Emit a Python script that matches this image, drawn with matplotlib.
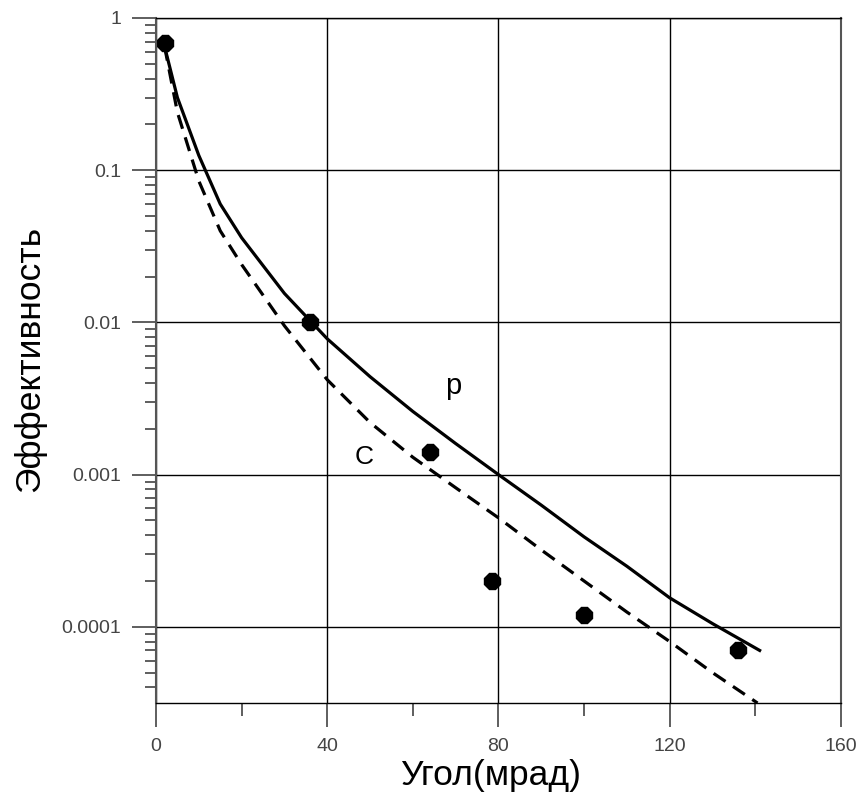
import matplotlib
matplotlib.use('Agg')
from matplotlib import pyplot as plt
from matplotlib.ticker import LogLocator, FixedLocator, NullFormatter

plt.rcParams['font.family'] = ['Liberation Sans', 'DejaVu Sans']

# calculated efficiency curves (angle in mrad)
p_angle = [2, 5, 10, 15, 20, 30, 40, 50, 60, 70, 80, 90, 100, 110, 120, 130, 141]
p_eff = [0.65, 0.30, 0.125, 0.06, 0.036, 0.0155, 0.0078, 0.0044, 0.0026, 0.0016,
         0.001, 0.00063, 0.00039, 0.00025, 0.000155, 0.000105, 0.00007]

c_angle = [2, 5, 10, 15, 20, 30, 40, 50, 60, 70, 80, 90, 100, 110, 120, 130, 140.5]
c_eff = [0.65, 0.24, 0.085, 0.040, 0.024, 0.0095, 0.0042, 0.0022, 0.0013, 0.00082,
         0.00052, 0.00032, 0.0002, 0.000125, 0.00008, 0.00005, 0.0000316]

# measured points
meas_angle = [2, 36, 64, 78.5, 100, 136]
meas_eff = [0.69, 0.01, 0.0014, 0.0002, 0.00012, 0.00007]

x_ticks = [0, 40, 80, 120, 160]
y_ticks = [1, 0.1, 0.01, 0.001, 0.0001]
y_tick_labels = ['1', '0.1', '0.01', '0.001', '0.0001']

fig = plt.figure(figsize=(8.6, 7.99), dpi=100)
ax = fig.add_axes([0.1814, 0.1202, 0.7965, 0.8573])

ax.plot(p_angle, p_eff, color='black', lw=2.3)
ax.plot(c_angle, c_eff, color='black', lw=2.3, dashes=(4.5, 2.8))
ax.plot(meas_angle, meas_eff, linestyle='none', marker='8', markersize=13,
        color='black')

ax.text(69.5, 0.0038, 'p', fontsize=21, ha='center', va='center')
ax.text(48.5, 0.0013, 'C', fontsize=19, ha='center', va='center')

ax.set_yscale('log')
ax.set_xlim(0, 160)
ax.set_ylim(10 ** -4.5, 1)

ax.xaxis.set_major_locator(FixedLocator(x_ticks))
ax.xaxis.set_minor_locator(FixedLocator([20, 60, 100, 140]))
ax.set_xticklabels([str(t) for t in x_ticks])
ax.yaxis.set_major_locator(FixedLocator(y_ticks))
ax.set_yticklabels(y_tick_labels)
ax.yaxis.set_minor_locator(LogLocator(base=10, subs=range(2, 10)))
ax.yaxis.set_minor_formatter(NullFormatter())

ax.tick_params(which='major', direction='out', length=17, width=1.1,
               color='#333333', labelsize=14, labelcolor='#444444', pad=8)
ax.tick_params(which='minor', direction='out', length=8, width=1.1,
               color='#333333')
ax.tick_params(axis='x', which='minor', length=9)

ax.grid(True, which='major', color='black', lw=1)
for side in ['left', 'right']:
    ax.spines[side].set_color('#555555')
    ax.spines[side].set_linewidth(1.5)
for side in ['top', 'bottom']:
    ax.spines[side].set_color('black')
    ax.spines[side].set_linewidth(1)

fig.text(0.570, 0.029, 'Угол(мрад)', fontsize=25.5, ha='center', va='center')
fig.text(0.035, 0.551, 'Эффективность', fontsize=25.5, rotation=90,
         ha='center', va='center')

fig.savefig('out.png', dpi=100)
